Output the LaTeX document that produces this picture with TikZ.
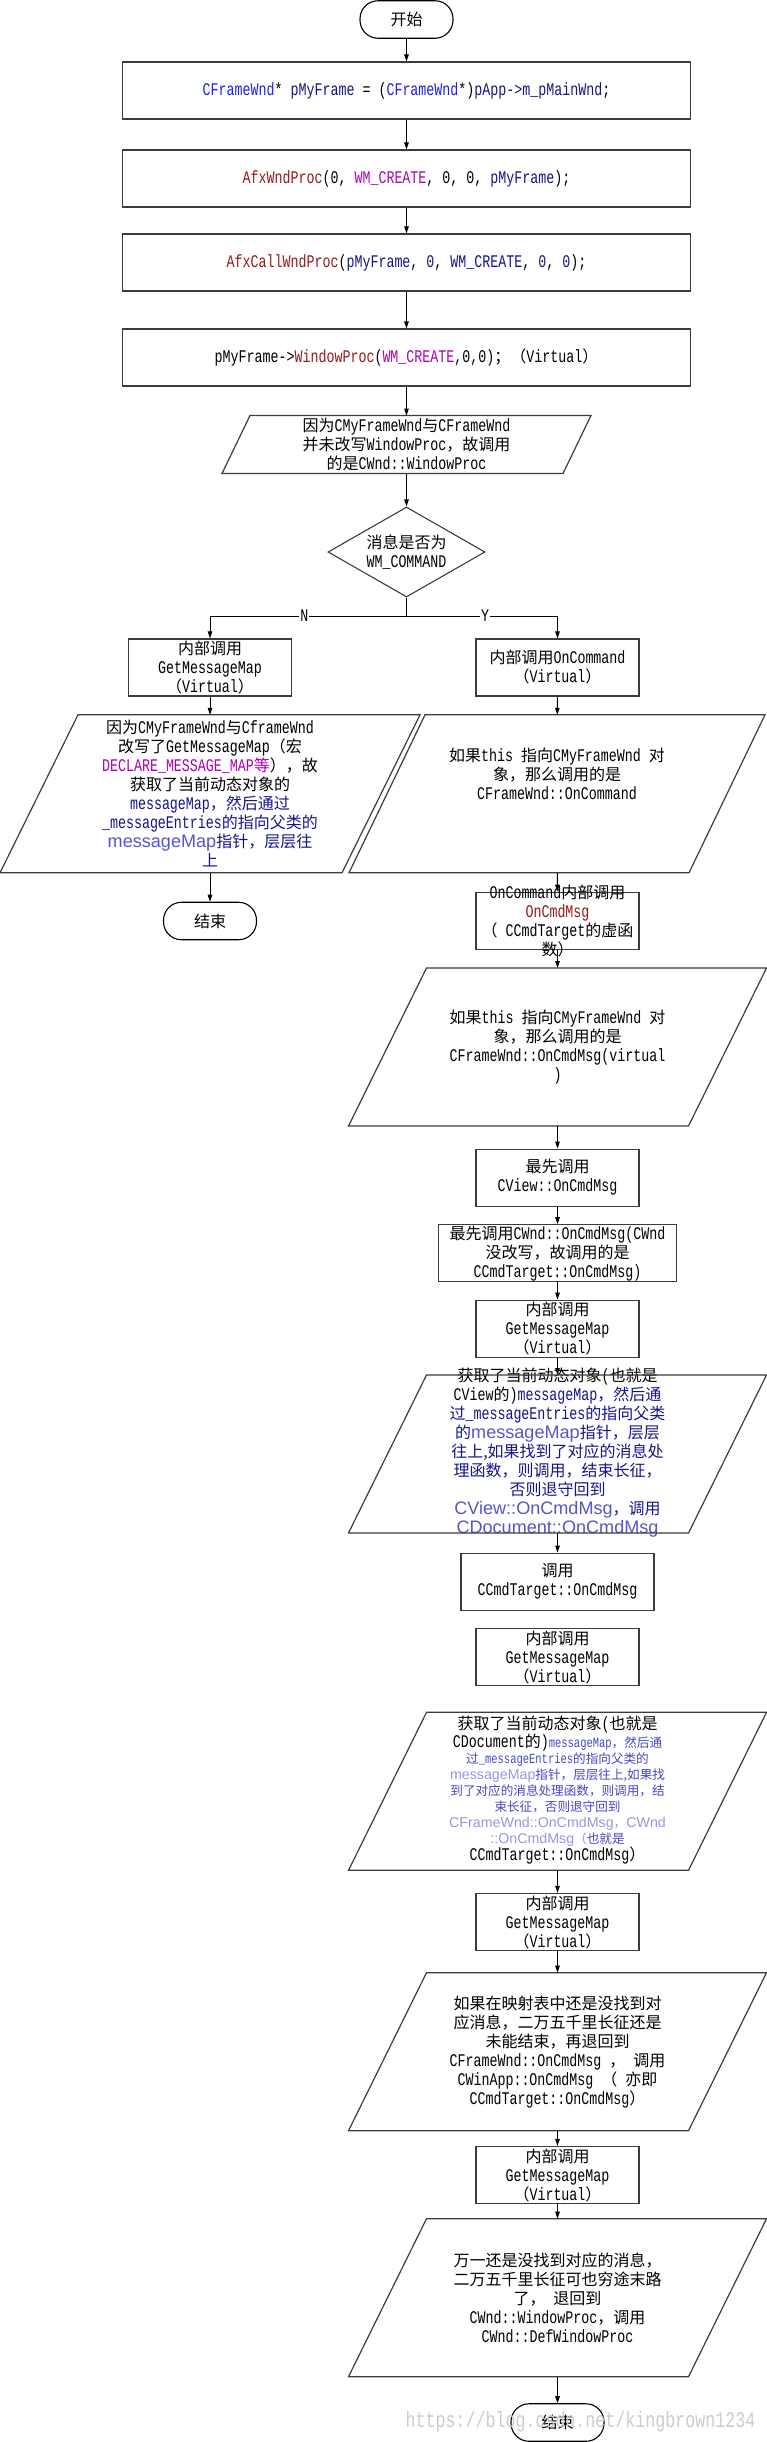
\documentclass[tikz,border=0pt]{standalone}
\usepackage{fontspec}
\setmainfont{Liberation Mono}[FakeStretch=0.75,Scale=1.11]
\newfontfamily\zhfont{Noto Sans CJK SC}
\newfontfamily\mapfont{Liberation Sans}[Scale=1.13]
\newcommand{\zh}[1]{{\zhfont #1}}
\usepackage{tikz}
\usetikzlibrary{arrows.meta,shapes.geometric}

\definecolor{typeblue}{RGB}{30,30,240}
\definecolor{varnavy}{RGB}{20,20,140}
\definecolor{funcred}{RGB}{150,25,25}
\definecolor{macropink}{RGB}{175,0,175}
\definecolor{mapblue}{RGB}{85,85,205}
\definecolor{maplilac}{RGB}{150,150,225}
\definecolor{cmtblue}{RGB}{70,70,200}
\definecolor{boxgray}{RGB}{60,60,60}

\tikzset{
  procbox/.style={rectangle, draw=boxgray, line width=1.2pt, inner sep=0pt,
    align=center, minimum width=163, minimum height=57},
  % body of a parallelogram, the slanted outline is drawn afterwards
  iobox/.style={rectangle, inner sep=0pt, align=center,
    minimum width=339, minimum height=157},
  ioline/.style={draw=boxgray, line width=1.2pt},
  decision/.style={diamond, aspect=1.744, draw=boxgray, line width=1.1pt,
    inner sep=0pt, align=center, minimum width=157, minimum height=90},
  terminal/.style={rectangle, rounded corners=18pt, draw, line width=1.1pt,
    minimum width=93, minimum height=37.5},
  note/.style={inner sep=0pt, align=center},
  branch/.style={fill=white, inner sep=1pt}
}

\begin{document}
\begin{tikzpicture}[x=1pt, y=-1pt, >={Triangle[length=7pt,width=4.5pt]},
    line width=1pt, font=\fontsize{16}{19}\selectfont]
    \useasboundingbox (0,0) rectangle (767,2442);

    % Nodes {main column}
    \node [terminal] (start) at (406.5,19.5) {\zh{开始}};
    \node [procbox, minimum width=568] (frame) at (406.5,90.5)
        {\textcolor{typeblue}{CFrameWnd}* \textcolor{varnavy}{pMyFrame} = (\textcolor{typeblue}{CFrameWnd}*)\textcolor{varnavy}{pApp->m\_pMainWnd};};
    \node [procbox, minimum width=568] (wndproc) at (406.5,178.5)
        {\textcolor{funcred}{AfxWndProc}(0, \textcolor{macropink}{WM\_CREATE}, 0, 0, \textcolor{varnavy}{pMyFrame});};
    \node [procbox, minimum width=568] (callproc) at (406.5,262.5)
        {\textcolor{funcred}{AfxCallWndProc}(\textcolor{varnavy}{pMyFrame}, \textcolor{varnavy}{0}, \textcolor{varnavy}{WM\_CREATE}, \textcolor{varnavy}{0}, \textcolor{varnavy}{0});};
    \node [procbox, minimum width=568] (winproc) at (406.5,357.5)
        {pMyFrame->\textcolor{funcred}{WindowProc}(\textcolor{macropink}{WM\_CREATE},0,0)\zh{；（}Virtual\zh{）}};
    \node [iobox, minimum width=340, minimum height=57] (cwndproc) at (406.5,444.5)
        {\zh{因为}CMyFrameWnd\zh{与}CFrameWnd\\\zh{并未改写}WindowProc\zh{，故调用}\\\zh{的是}CWnd::WindowProc};
    \node [decision] (iscmd) at (406.5,552) {\zh{消息是否为}\\WM\_COMMAND};
    \coordinate (fork) at (406.5,616);

    % Nodes {N branch}
    \node [procbox] (getmapl) at (210,667.5) {\zh{内部调用}\\GetMessageMap\\\zh{（}Virtual\zh{）}};
    \node [iobox, minimum width=341] (mapup) at (210,793.8)
        {\zh{因为}CMyFrameWnd\zh{与}CframeWnd\\
         \zh{改写了}GetMessageMap\zh{（宏}\\
         \textcolor{macropink}{DECLARE\_MESSAGE\_MAP\zh{等}}\zh{），故}\\
         \zh{获取了当前动态对象的}\\
         \textcolor{varnavy}{messageMap\zh{，然后通过}}\\
         \textcolor{varnavy}{\_messageEntries\zh{的指向父类的}}\\
         \textcolor{mapblue}{\mapfont messageMap}\textcolor{varnavy}{\zh{指针，层层往}}\\
         \textcolor{varnavy}{\zh{上}}};
    \node [terminal] (endl) at (210,921) {\zh{结束}};

    % Nodes {Y branch}
    \node [procbox] (oncmd) at (557.5,667.5) {\zh{内部调用}OnCommand\\\zh{（}Virtual\zh{）}};
    \node [iobox] (framecmd) at (557,793.8) {};
    \node [note] (framecmdtxt) at (557,774)
        {\zh{如果}this \zh{指向}CMyFrameWnd \zh{对}\\\zh{象，那么调用的是}\\CFrameWnd::OnCommand};
    \node [procbox] (cmdmsg) at (557.5,920.7) {};
    \node [note] (cmdmsgtxt) at (557.5,920.7)
        {OnCommand\zh{内部调用}\\\textcolor{funcred}{OnCmdMsg}\\\zh{（} CCmdTarget\zh{的虚函}\\\zh{数）}};
    \node [iobox] (framemsg) at (557.5,1047)
        {\zh{如果}this \zh{指向}CMyFrameWnd \zh{对}\\\zh{象，那么调用的是}\\CFrameWnd::OnCmdMsg(virtual\\)};
    \node [procbox] (viewmsg) at (557.5,1177.6) {\zh{最先调用}\\CView::OnCmdMsg};
    \node [procbox, minimum width=238] (wndmsg) at (557.5,1253.3)
        {\zh{最先调用}CWnd::OnCmdMsg(CWnd\\\zh{没改写，故调用的是}\\CCmdTarget::OnCmdMsg)};
    \node [procbox] (getmap2) at (557.5,1328.7) {\zh{内部调用}\\GetMessageMap\\\zh{（}Virtual\zh{）}};
    \node [iobox] (viewmap) at (557.5,1454) {};
    \node [note] (viewmaptxt) at (557.5,1453)
        {\zh{获取了当前动态对象}(\zh{也就是}\\
         CView\zh{的})\textcolor{varnavy}{messageMap\zh{，然后通}}\\
         \textcolor{varnavy}{\zh{过}\_messageEntries\zh{的指向父类}}\\
         \textcolor{varnavy}{\zh{的}}\textcolor{mapblue}{\mapfont messageMap}\textcolor{varnavy}{\zh{指针，层层}}\\
         \textcolor{varnavy}{\zh{往上,如果找到了对应的消息处}}\\
         \textcolor{varnavy}{\zh{理函数，则调用，结束长征，}}\\
         \textcolor{varnavy}{\zh{否则退守回到}}\\
         \textcolor{mapblue}{\mapfont CView::OnCmdMsg}\textcolor{varnavy}{\zh{，调用}}\\
         \textcolor{mapblue}{\mapfont CDocument::OnCmdMsg}};
    \node [procbox, minimum width=193] (targetmsg) at (557.5,1581.7) {\zh{调用}\\CCmdTarget::OnCmdMsg};
    \node [procbox] (getmap3) at (557.5,1657.3) {\zh{内部调用}\\GetMessageMap\\\zh{（}Virtual\zh{）}};
    \node [iobox] (docmap) at (557.5,1791.3) {};
    \node [note, font=\fontsize{12.6}{16}\selectfont] (docmaptxt) at (557.5,1790)
        {{\fontsize{16}{19}\selectfont\zh{获取了当前动态对象}(\zh{也就是}}\\
         {\fontsize{16}{19}\selectfont CDocument\zh{的})}\textcolor{cmtblue}{messageMap\zh{，然后通}}\\
         \textcolor{cmtblue}{\zh{过}\_messageEntries\zh{的指向父类的}}\\
         \textcolor{maplilac}{\mapfont messageMap}\textcolor{cmtblue}{\zh{指针，层层往上,如果找}}\\
         \textcolor{cmtblue}{\zh{到了对应的消息处理函数，则调用，结}}\\
         \textcolor{cmtblue}{\zh{束长征，否则退守回到}}\\
         \textcolor{maplilac}{\mapfont CFrameWnd::OnCmdMsg\zh{，}CWnd}\\
         \textcolor{maplilac}{\mapfont ::OnCmdMsg\zh{（}}\textcolor{cmtblue}{\zh{也就是}}\\
         {\fontsize{16}{19}\selectfont CCmdTarget::OnCmdMsg\zh{）}}};
    \node [procbox] (getmap4) at (557.5,1922) {\zh{内部调用}\\GetMessageMap\\\zh{（}Virtual\zh{）}};
    \node [iobox] (appmsg) at (557.5,2051.7)
        {\zh{如果在映射表中还是没找到对}\\\zh{应消息，二万五千里长征还是}\\\zh{未能结束，再退回到}\\
         CFrameWnd::OnCmdMsg \zh{，} \zh{调用}\\CWinApp::OnCmdMsg \zh{（} \zh{亦即}\\CCmdTarget::OnCmdMsg\zh{）}};
    \node [procbox] (getmap5) at (557.5,2175) {\zh{内部调用}\\GetMessageMap\\\zh{（}Virtual\zh{）}};
    \node [iobox] (defproc) at (557.5,2297.7)
        {\zh{万一还是没找到对应的消息，}\\\zh{二万五千里长征可也穷途末路}\\\zh{了，} \zh{退回到}\\
         CWnd::WindowProc\zh{，调用}\\CWnd::DefWindowProc};
    \node [terminal] (endr) at (557.5,2422.5) {\zh{结束}};

    % Parallelogram outlines {node/half slant}
    \foreach \n/\s in {cwndproc/14, mapup/39, framecmd/38, framemsg/39,
                       viewmap/39, docmap/39, appmsg/39, defproc/39}
        \draw [ioline] ([xshift=\s]\n.north west) -- ([xshift=\s]\n.north east)
            -- ([xshift=-\s]\n.south east) -- ([xshift=-\s]\n.south west) -- cycle;

    % Paths
    \path [->] (start)    edge (frame);
    \path [->] (frame)    edge (wndproc);
    \path [->] (wndproc)  edge (callproc);
    \path [->] (callproc) edge (winproc);
    \path [->] (winproc)  edge (cwndproc);
    \path [->] (cwndproc) edge (iscmd);
    \draw      (iscmd) -- (fork);
    \draw [->] (fork) -| node [branch, pos=0.26] {N} (getmapl);
    \draw [->] (fork) -| node [branch, pos=0.26] {Y} (oncmd);
    \path [->] (getmapl)  edge (mapup);
    \path [->] (mapup)    edge (endl);
    \path [->] (oncmd)    edge (framecmd);
    \path [->] (framecmd) edge (cmdmsg);
    \path [->] (cmdmsg)   edge (framemsg);
    \path [->] (framemsg) edge (viewmsg);
    \path [->] (viewmsg)  edge (wndmsg);
    \path [->] (wndmsg)   edge (getmap2);
    \path [->] (getmap2)  edge (viewmap);
    \path [->] (viewmap)  edge (targetmsg);
    \path [->] (docmap)   edge (getmap4);
    \path [->] (getmap4)  edge (appmsg);
    \path [->] (appmsg)   edge (getmap5);
    \path [->] (getmap5)  edge (defproc);
    \path [->] (defproc)  edge (endr);

    % watermark
    \node [font=\fontsize{20}{20}\selectfont, text=gray!40] (watermark) at (580.5,2421.7)
        {https://blog.csdn.net/kingbrown1234};
\end{tikzpicture}
\end{document}
